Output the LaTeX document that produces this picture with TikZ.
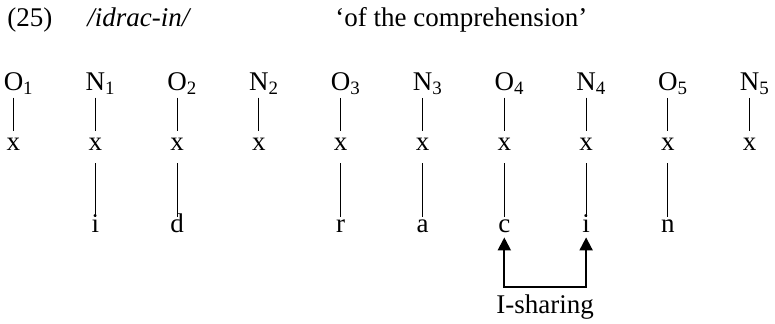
\documentclass[tikz,border=0pt]{standalone}
\usepackage{fontspec}
\setmainfont{Liberation Serif}
\usetikzlibrary{arrows.meta}
\newcommand{\cons}[2]{#1\rlap{\textsubscript{#2}}}

\tikzset{
  lbl/.style={anchor=base, inner sep=0pt},
  slot/.style={anchor=base, inner sep=0pt},
  seg/.style={anchor=base, inner sep=0pt, text height=0.7em, text depth=0pt},
  upline/.style={line width=0.5pt, shorten <=1.5pt, shorten >=3pt},
  downline/.style={line width=0.5pt, shorten <=6.5pt, shorten >=0.5pt},
  share/.style={line width=1pt, {Triangle[width=6.5pt,length=6.5pt]}-{Triangle[width=6.5pt,length=6.5pt]}, shorten <=2.5pt, shorten >=2.5pt}
}

\begin{document}
\begin{tikzpicture}[x=0.5pt, y=-0.5pt, font=\fontsize{13.5}{16}\selectfont]
\useasboundingbox (0,0) rectangle (775,323);

% Header line
\node[anchor=base west, inner sep=0pt] (num) at (7,26) {(25)};
\node[anchor=base west, inner sep=0pt] (form) at (87,26) {\textit{/idrac-in/}};
\node[anchor=base west, inner sep=0pt] (gloss) at (335,26) {‘of the comprehension’};

% Constituents
\node[lbl] (o1) at (13.5,90) {\cons{O}{1}};
\node[lbl] (n1) at (95.3,90) {\cons{N}{1}};
\node[lbl] (o2) at (177.1,90) {\cons{O}{2}};
\node[lbl] (n2) at (258.9,90) {\cons{N}{2}};
\node[lbl] (o3) at (340.7,90) {\cons{O}{3}};
\node[lbl] (n3) at (422.5,90) {\cons{N}{3}};
\node[lbl] (o4) at (504.3,90) {\cons{O}{4}};
\node[lbl] (n4) at (586.1,90) {\cons{N}{4}};
\node[lbl] (o5) at (667.9,90) {\cons{O}{5}};
\node[lbl] (n5) at (749.7,90) {\cons{N}{5}};

% Skeletal slots
\node[slot] (xo1) at (13.5,150) {x};
\node[slot] (xn1) at (95.3,150) {x};
\node[slot] (xo2) at (177.1,150) {x};
\node[slot] (xn2) at (258.9,150) {x};
\node[slot] (xo3) at (340.7,150) {x};
\node[slot] (xn3) at (422.5,150) {x};
\node[slot] (xo4) at (504.3,150) {x};
\node[slot] (xn4) at (586.1,150) {x};
\node[slot] (xo5) at (667.9,150) {x};
\node[slot] (xn5) at (749.7,150) {x};

\draw[upline] (o1) -- (xo1);
\draw[upline] (n1) -- (xn1);
\draw[upline] (o2) -- (xo2);
\draw[upline] (n2) -- (xn2);
\draw[upline] (o3) -- (xo3);
\draw[upline] (n3) -- (xn3);
\draw[upline] (o4) -- (xo4);
\draw[upline] (n4) -- (xn4);
\draw[upline] (o5) -- (xo5);
\draw[upline] (n5) -- (xn5);

% Melody
\node[seg] (sn1) at (95.3,232) {i};
\node[seg] (so2) at (177.1,232) {d};
\node[seg] (so3) at (340.7,232) {r};
\node[seg] (sn3) at (422.5,232) {a};
\node[seg] (so4) at (504.3,232) {c};
\node[seg] (sn4) at (586.1,232) {i};
\node[seg] (so5) at (667.9,232) {n};

\draw[downline] (xn1) -- (sn1);
\draw[downline] (xo2) -- (so2);
\draw[downline] (xo3) -- (so3);
\draw[downline] (xn3) -- (sn3);
\draw[downline] (xo4) -- (so4);
\draw[downline] (xn4) -- (sn4);
\draw[downline] (xo5) -- (so5);

% I-sharing between c and i
\draw[share] (so4.south) -- ++(0,55) -| (sn4.south);
\node[anchor=base, inner sep=0pt] (ishare) at (545.2,313) {I-sharing};
\end{tikzpicture}
\end{document}
